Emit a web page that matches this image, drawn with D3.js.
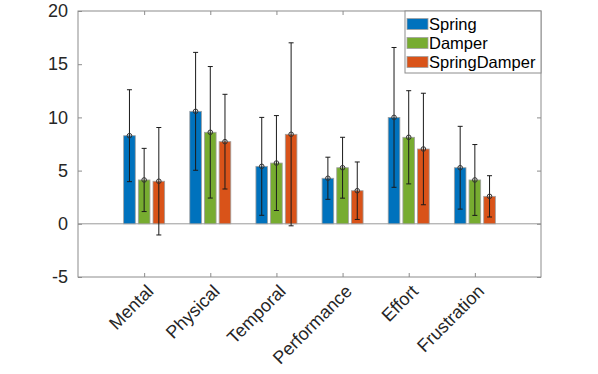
<!DOCTYPE html>
<html>
<head>
<meta charset="utf-8">
<script src="https://cdn.jsdelivr.net/npm/d3@7"></script>
<style>
  body { margin: 0; background: #fff; }
  text { font-family: "Liberation Sans", Arial, sans-serif; }
</style>
</head>
<body>
<svg id="chart"></svg>
<script>
// categories and series (means with +/- error)
const categories = ["Mental", "Physical", "Temporal", "Performance", "Effort", "Frustration"];
const seriesNames = ["Spring", "Damper", "SpringDamper"];
const seriesColors = ["#0072BD", "#77AC30", "#D95319"];
const springMean = [8.28, 10.57, 5.40, 4.28, 10.00, 5.27];
const springErr = [4.32, 5.54, 4.60, 1.98, 6.57, 3.89];
const damperMean = [4.12, 8.60, 5.71, 5.27, 8.13, 4.12];
const damperErr = [2.97, 6.18, 4.46, 2.86, 4.38, 3.33];
const sdMean = [4.00, 7.72, 8.41, 3.11, 7.03, 2.58];
const sdErr = [5.05, 4.45, 8.60, 2.70, 5.24, 1.94];
const yTicks = [-5, 0, 5, 10, 15, 20];

const means = [springMean, damperMean, sdMean];
const errs = [springErr, damperErr, sdErr];

const W = 598, H = 374;
const margin = { top: 11, right: 57, bottom: 97, left: 78 };
const width = W - margin.left - margin.right;
const height = H - margin.top - margin.bottom;

const svg = d3.select("#chart").attr("width", W).attr("height", H);
const g = svg.append("g").attr("transform", `translate(${margin.left},${margin.top})`);

// x as numeric position 0..7, categories at 1..6
const x = d3.scaleLinear().domain([0, 7]).range([0, width]);
const y = d3.scaleLinear().domain([-5, 20]).range([height, 0]);

const offset = 0.222;   // group offset in category units
const barW = 0.176;

// zero line
g.append("line")
  .attr("x1", 0).attr("x2", width)
  .attr("y1", y(0)).attr("y2", y(0))
  .attr("stroke", "#9a9a9a").attr("stroke-width", 1);

// bars
seriesNames.forEach((name, s) => {
  const rows = categories.map((c, i) => ({ i, m: means[s][i], e: errs[s][i] }));
  const grp = g.append("g");
  grp.selectAll("rect")
    .data(rows)
    .enter().append("rect")
    .attr("x", d => x(d.i + 1 + (s - 1) * offset - barW / 2))
    .attr("width", x(barW) - x(0))
    .attr("y", d => y(Math.max(0, d.m)))
    .attr("height", d => Math.abs(y(d.m) - y(0)))
    .attr("fill", seriesColors[s])
    .attr("stroke", "#a0a0a0")
    .attr("stroke-width", 0.8);
});

// error bars and markers
seriesNames.forEach((name, s) => {
  const rows = categories.map((c, i) => ({ cx: x(i + 1 + (s - 1) * offset), m: means[s][i], e: errs[s][i] }));
  const eg = g.append("g").attr("stroke", "#1a1a1a").attr("stroke-width", 1).attr("fill", "none");
  eg.selectAll(".stem").data(rows).enter().append("line")
    .attr("x1", d => d.cx).attr("x2", d => d.cx)
    .attr("y1", d => y(d.m + d.e)).attr("y2", d => y(d.m - d.e));
  eg.selectAll(".capT").data(rows).enter().append("line")
    .attr("x1", d => d.cx - 2.5).attr("x2", d => d.cx + 2.5)
    .attr("y1", d => y(d.m + d.e)).attr("y2", d => y(d.m + d.e));
  eg.selectAll(".capB").data(rows).enter().append("line")
    .attr("x1", d => d.cx - 2.5).attr("x2", d => d.cx + 2.5)
    .attr("y1", d => y(d.m - d.e)).attr("y2", d => y(d.m - d.e));
  eg.selectAll("circle").data(rows).enter().append("circle")
    .attr("cx", d => d.cx).attr("cy", d => y(d.m)).attr("r", 2.3)
    .attr("stroke", "#333");
});

// axis box
const boxColor = "#8c8c8c";
g.append("rect")
  .attr("x", 0).attr("y", 0).attr("width", width).attr("height", height)
  .attr("fill", "none").attr("stroke", boxColor).attr("stroke-width", 1);

// y axis (ticks inward) + mirrored on right
const yAxis = g.append("g").call(d3.axisLeft(y).tickValues(yTicks).tickFormat(d => String(d))
  .tickSizeInner(-4).tickSizeOuter(0).tickPadding(10));
yAxis.select(".domain").remove();
yAxis.selectAll(".tick line").attr("stroke", boxColor);
yAxis.selectAll(".tick text").attr("font-size", 18).attr("fill", "#262626");

const yAxisR = g.append("g").attr("transform", `translate(${width},0)`)
  .call(d3.axisRight(y).tickValues(yTicks).tickSizeInner(-4).tickSizeOuter(0).tickFormat(""));
yAxisR.select(".domain").remove();
yAxisR.selectAll(".tick line").attr("stroke", boxColor);

// x axis ticks inward, bottom and top
const xTickVals = categories.map((c, i) => i + 1);
const xAxis = g.append("g").attr("transform", `translate(0,${height})`)
  .call(d3.axisBottom(x).tickValues(xTickVals).tickSizeInner(-4).tickSizeOuter(0).tickFormat(""));
xAxis.select(".domain").remove();
xAxis.selectAll(".tick line").attr("stroke", boxColor);

const xAxisT = g.append("g")
  .call(d3.axisTop(x).tickValues(xTickVals).tickSizeInner(-4).tickSizeOuter(0).tickFormat(""));
xAxisT.select(".domain").remove();
xAxisT.selectAll(".tick line").attr("stroke", boxColor);

// rotated category labels
g.append("g").selectAll("text")
  .data(categories)
  .enter().append("text")
  .attr("transform", (d, i) => `translate(${x(i + 1) + 6},${height + 11}) rotate(-45)`)
  .attr("text-anchor", "end")
  .attr("dy", "0.35em")
  .attr("font-size", 18)
  .attr("fill", "#262626")
  .text(d => d);

// legend
const lgX = 405 - margin.left, lgY = 0, lgW = 136, lgH = 62;
const lg = g.append("g");
lg.append("rect")
  .attr("x", lgX).attr("y", lgY).attr("width", lgW).attr("height", lgH)
  .attr("fill", "#fff").attr("stroke", boxColor).attr("stroke-width", 1);
seriesNames.forEach((name, s) => {
  const cy = lgY + 13 + s * 19;
  lg.append("rect")
    .attr("x", lgX + 2).attr("y", cy - 5.5).attr("width", 21).attr("height", 11)
    .attr("fill", seriesColors[s]).attr("stroke", "#a0a0a0").attr("stroke-width", 0.8);
  lg.append("text")
    .attr("x", lgX + 24).attr("y", cy).attr("dy", "0.35em")
    .attr("font-size", 16.5).attr("fill", "#000")
    .text(name);
});
</script>
</body>
</html>
